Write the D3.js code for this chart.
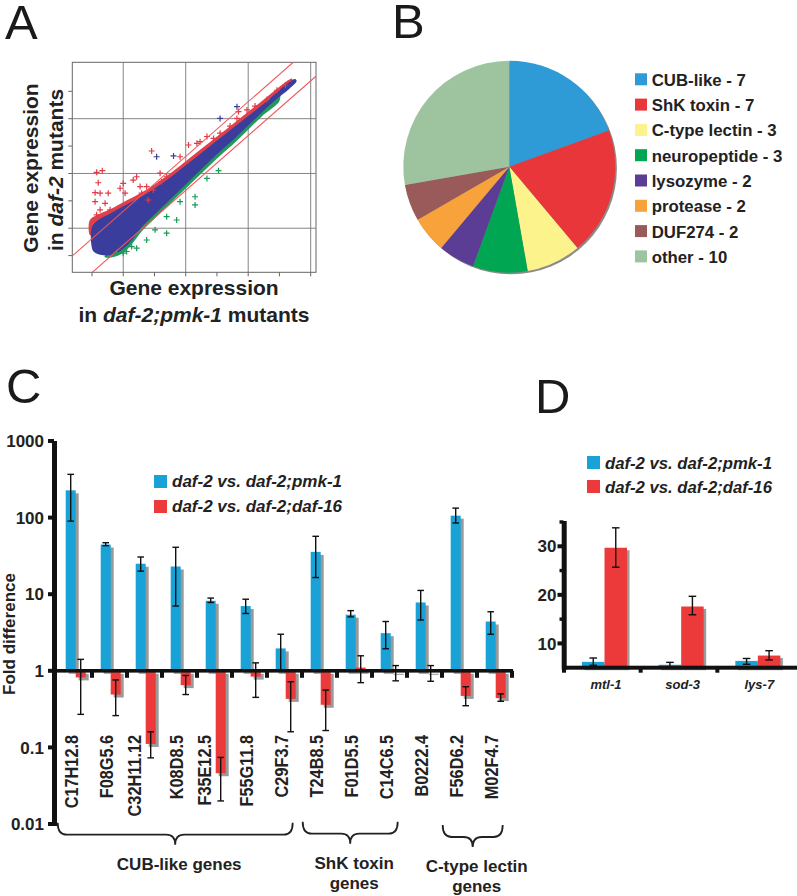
<!DOCTYPE html>
<html><head><meta charset="utf-8">
<script src="https://cdn.jsdelivr.net/npm/d3@7"></script>
<style>
body{margin:0;background:#fff}
svg{display:block}
text{font-family:"Liberation Sans",Arial,Helvetica,sans-serif}
</style>
</head><body>
<svg id="fig" width="797" height="896"></svg>
<script>
// ---------- Panel A data (log expression units) ----------
const gridXA = [2, 4, 6, 8];
const gridYA = [2, 4, 6];
const ticksXA = [1, 2, 3, 4, 5, 6, 7, 8];
const ticksYA = [1, 2, 3, 4, 5, 6, 7];
const upperFoldLine = [[0.37, 0.99], [7.44, 8.06]];
const lowerFoldLine = [[1.01, 0.39], [8.17, 7.55]];
const blueCloud = [[0.98,1.4],[1.0,2.05],[1.2,2.3],[1.6,2.55],[2.0,2.8],[2.5,3.1],[3.0,3.45],[3.5,3.85],[4.0,4.3],[4.5,4.75],[5.0,5.2],[5.5,5.65],[6.0,6.1],[6.5,6.55],[7.0,7.05],[7.3,7.32],[7.5,7.45],[7.55,7.38],[7.3,7.08],[7.0,6.8],[6.5,6.3],[6.0,5.75],[5.5,5.2],[5.0,4.7],[4.5,4.15],[4.0,3.6],[3.5,3.05],[3.0,2.5],[2.6,2.05],[2.3,1.6],[2.0,1.25],[1.7,1.05],[1.3,1.02],[1.05,1.15]];
const redBand = [[0.93,1.75],[0.93,2.3],[1.2,2.5],[1.6,2.7],[2.0,2.95],[2.5,3.25],[3.0,3.6],[3.5,4.0],[4.0,4.45],[4.5,4.9],[5.0,5.35],[5.5,5.8],[6.0,6.25],[6.5,6.7],[7.0,7.17],[7.4,7.47],[7.4,7.3],[7.0,6.95],[6.5,6.45],[6.0,6.0],[5.5,5.5],[5.0,5.05],[4.5,4.6],[4.0,4.15],[3.5,3.7],[3.0,3.3],[2.5,2.95],[2.0,2.6],[1.6,2.35],[1.2,2.0],[1.0,1.75]];
const greenBand = [[1.4,0.95],[1.7,0.95],[2.0,1.1],[2.3,1.45],[2.6,1.9],[3.0,2.35],[3.5,2.9],[4.0,3.45],[4.5,4.0],[5.0,4.55],[5.5,5.05],[6.0,5.6],[6.5,6.15],[7.0,6.65],[7.0,6.95],[6.5,6.45],[6.0,5.9],[5.5,5.35],[5.0,4.85],[4.5,4.3],[4.0,3.75],[3.5,3.2],[3.0,2.65],[2.6,2.2],[2.3,1.8],[2.0,1.45],[1.6,1.2]];
const redOutliers = [[2.91,4.82],[1.15,4.04],[1.33,4.10],[1.20,3.66],[1.10,3.30],[1.26,3.28],[1.52,3.28],[1.90,3.46],[2.06,3.28],[2.00,3.64],[1.10,2.97],[1.42,2.91],[1.26,2.67],[1.58,2.67],[1.15,2.49],[2.54,3.52],[2.59,3.28],[3.18,4.01],[3.39,3.88],[3.23,3.70],[2.80,3.03],[3.82,4.61],[4.09,5.04],[4.36,5.10],[2.96,3.40],[2.32,3.76],[2.43,3.88],[4.46,5.16],[4.68,5.35],[4.89,5.28],[5.10,5.47],[5.42,5.73],[5.64,6.01],[5.69,6.26],[5.96,6.32],[6.22,6.46],[6.60,6.70],[6.92,7.04],[7.19,7.23],[2.75,3.52]];
const greenOutliers = [[4.68,3.82],[4.30,3.15],[4.30,2.85],[3.71,2.30],[3.39,2.42],[3.39,1.82],[2.75,1.57],[2.43,1.27],[2.00,1.09],[5.05,4.10],[3.82,2.97],[2.27,1.33],[1.79,1.11],[2.11,1.15],[3.02,1.94]];
const blueOutliers = [[5.64,6.44],[5.10,6.01],[3.61,4.64],[3.07,4.61],[2.27,1.82]];

// ---------- Panel B data ----------
const pieLabels = ["CUB-like","ShK toxin","C-type lectin","neuropeptide","lysozyme","protease","DUF274","other"];
const pieCounts = [7, 7, 3, 3, 2, 2, 2, 10];
const pieColors = ["#2e9ad6","#e8363a","#fdf38c","#00a651","#5c3d96","#f7a23a","#9b5a5a","#9dc49f"];

// ---------- Panel C data ----------
const seriesNames = ["daf-2 vs. daf-2;pmk-1", "daf-2 vs. daf-2;daf-16"];
const seriesColors = ["#19a2d8", "#ec3a3a"];
const genes = ["C17H12.8","F08G5.6","C32H11.12","K08D8.5","F35E12.5","F55G11.8","C29F3.7","T24B8.5","F01D5.5","C14C6.5","B0222.4","F56D6.2","M02F4.7"];
const pmk1   = [227, 44.5, 25, 23, 8.2, 7.0, 1.96, 35.7, 5.4, 3.1, 7.8, 106, 4.4];
const pmk1Lo = [90, 43, 20, 7.0, 7.8, 5.6, 1.02, 16.5, 5.06, 1.94, 4.6, 85, 3.0];
const pmk1Hi = [367, 47, 30.6, 41, 8.9, 8.6, 3.0, 57, 6.1, 4.4, 11.2, 133, 5.9];
const daf16   = [0.82, 0.49, 0.111, 0.65, 0.046, 0.84, 0.43, 0.36, 1.1, 0.97, 0.97, 0.47, 0.44];
const daf16Lo = [0.27, 0.26, 0.073, 0.49, 0.020, 0.45, 0.16, 0.166, 0.70, 0.74, 0.73, 0.35, 0.40];
const daf16Hi = [1.41, 0.76, 0.16, 0.87, 0.074, 1.27, 0.72, 0.56, 1.57, 1.17, 1.17, 0.62, 0.50];
const yTicksC = [0.01, 0.1, 1, 10, 100, 1000];
const yTickLabelsC = ["0.01", "0.1", "1", "10", "100", "1000"];
const geneGroups = [
  {lines: ["CUB-like genes"], first: "C17H12.8", last: "C29F3.7"},
  {lines: ["ShK toxin", "genes"], first: "T24B8.5", last: "C14C6.5"},
  {lines: ["C-type lectin", "genes"], first: "F56D6.2", last: "M02F4.7"}
];

// ---------- Panel D data ----------
const dGenes = ["mtl-1", "sod-3", "lys-7"];
const dPmk1   = [6.2, 5.6, 6.4];
const dPmk1Lo = [5.5, 5.2, 5.7];
const dPmk1Hi = [7.0, 6.1, 6.9];
const dDaf16   = [29.7, 17.6, 7.5];
const dDaf16Lo = [25.7, 15.9, 6.6];
const dDaf16Hi = [33.8, 19.7, 8.5];
const dMajorTicks = [10, 20, 30];
const dMinorTicks = [15, 25, 35];

// =====================================================
const svg = d3.select("#fig");
const BOLD = 700;

// panel letters
[["A",5,39],["B",392,38],["C",6,403],["D",535,413]].forEach(([t,x,y]) =>
  svg.append("text").attr("x",x).attr("y",y).attr("font-size",49).attr("fill","#1a1a1a").text(t));

// ---------------- Panel A ----------------
(function(){
  const L=72.3,R=316,T=62.3,B=272.3;
  const xA = d3.scaleLinear().domain([0.37, 8.17]).range([L, R]);
  const yA = d3.scaleLinear().domain([0.39, 8.06]).range([B, T]);
  const g = svg.append("g");
  g.append("defs").append("clipPath").attr("id","clipA")
    .append("rect").attr("x",L).attr("y",T).attr("width",R-L).attr("height",B-T);
  g.append("rect").attr("x",L).attr("y",T).attr("width",R-L).attr("height",B-T)
    .attr("fill","#fff").attr("stroke","#666").attr("stroke-width",1);
  g.selectAll(".gx").data(gridXA).join("line")
    .attr("x1",d=>xA(d)).attr("x2",d=>xA(d)).attr("y1",T).attr("y2",B)
    .attr("stroke","#777").attr("stroke-width",0.9);
  g.selectAll(".gy").data(gridYA).join("line")
    .attr("y1",d=>yA(d)).attr("y2",d=>yA(d)).attr("x1",L).attr("x2",R)
    .attr("stroke","#777").attr("stroke-width",0.9);
  g.selectAll(".tx").data(ticksXA).join("line")
    .attr("x1",d=>xA(d)).attr("x2",d=>xA(d)).attr("y1",B).attr("y2",B+4)
    .attr("stroke","#666").attr("stroke-width",1);
  g.selectAll(".ty").data(ticksYA).join("line")
    .attr("y1",d=>yA(d)).attr("y2",d=>yA(d)).attr("x1",L-4).attr("x2",L)
    .attr("stroke","#666").attr("stroke-width",1);

  const c = g.append("g").attr("clip-path","url(#clipA)");
  const poly = d3.line().x(d=>xA(d[0])).y(d=>yA(d[1])).curve(d3.curveCatmullRomClosed);
  c.append("path").attr("d",poly(redBand)).attr("fill","#e0404a");
  c.append("path").attr("d",poly(greenBand)).attr("fill","#1f9a5c");
  c.append("path").attr("d",poly(blueCloud)).attr("fill","#3b3d9c");
  const cross = "M-3,0H3M0,-3V3";
  const addPts = (data,col) => c.append("g").selectAll("path").data(data).join("path")
    .attr("d",cross).attr("transform",d=>`translate(${xA(d[0])},${yA(d[1])})`)
    .attr("stroke",col).attr("stroke-width",1.2).attr("fill","none");
  addPts(greenOutliers,"#1a9a58");
  addPts(blueOutliers,"#3b3d9c");
  addPts(redOutliers,"#e23a44");
  const ln = d3.line().x(d=>xA(d[0])).y(d=>yA(d[1]));
  [upperFoldLine, lowerFoldLine].forEach(l =>
    c.append("path").attr("d",ln(l)).attr("stroke","#f0555a").attr("stroke-width",1.1).attr("fill","none"));

  g.append("text").attr("x",194).attr("y",295).attr("text-anchor","middle")
    .attr("font-size",21).attr("font-weight",BOLD).attr("fill","#222").text("Gene expression");
  const t2 = g.append("text").attr("x",194).attr("y",321.7).attr("text-anchor","middle")
    .attr("font-size",21).attr("font-weight",BOLD).attr("fill","#222");
  t2.append("tspan").text("in ");
  t2.append("tspan").attr("font-style","italic").text("daf-2;pmk-1");
  t2.append("tspan").text(" mutants");
  g.append("text").attr("transform","translate(37.5,168) rotate(-90)").attr("text-anchor","middle")
    .attr("font-size",21).attr("font-weight",BOLD).attr("fill","#222").text("Gene expression");
  const t4 = g.append("text").attr("transform","translate(63,170) rotate(-90)").attr("text-anchor","middle")
    .attr("font-size",21).attr("font-weight",BOLD).attr("fill","#222");
  t4.append("tspan").text("in ");
  t4.append("tspan").attr("font-style","italic").text("daf-2");
  t4.append("tspan").text(" mutants");
})();

// ---------------- Panel B ----------------
(function(){
  const cx=509.3, cy=166.7, r=106;
  const g = svg.append("g");
  g.append("circle").attr("cx",cx+1.6).attr("cy",cy+1.6).attr("r",r).attr("fill","#8a8a8a");
  const pie = d3.pie().sort(null).value(d=>d)(pieCounts);
  const arc = d3.arc().innerRadius(0).outerRadius(r);
  g.append("g").attr("transform",`translate(${cx},${cy})`).selectAll("path").data(pie).join("path")
    .attr("d",arc).attr("fill",(d,i)=>pieColors[i]);
  const lg = g.append("g");
  pieLabels.forEach((lab,i)=>{
    lg.append("rect").attr("x",635).attr("y",73.3+25.3*i).attr("width",12).attr("height",12).attr("fill",pieColors[i]);
    lg.append("text").attr("x",651.7).attr("y",85.7+25.3*i).attr("font-size",16.8).attr("font-weight",BOLD)
      .attr("fill","#222").text(`${lab} - ${pieCounts[i]}`);
  });
})();

// ---------------- Panel C ----------------
(function(){
  const g = svg.append("g");
  const x0 = d3.scaleBand().domain(genes).range([57, 512]);
  const x1 = d3.scaleBand().domain(seriesNames).range([8.7, 28.7]);
  const y = d3.scaleLog().domain([0.01, 1000]).range([824, 441]);
  const y1 = y(1);
  const rows = [];
  genes.forEach((gname,i)=>{
    rows.push({g:gname, s:seriesNames[0], c:seriesColors[0], v:pmk1[i], lo:pmk1Lo[i], hi:pmk1Hi[i]});
    rows.push({g:gname, s:seriesNames[1], c:seriesColors[1], v:daf16[i], lo:daf16Lo[i], hi:daf16Hi[i]});
  });
  const bx = d => x0(d.g) + x1(d.s);
  const bw = x1.bandwidth();
  g.selectAll(".sh").data(rows).join("rect")
    .attr("x",d=>bx(d)+3).attr("y",d=>Math.min(y(d.v),y1)+3).attr("width",bw)
    .attr("height",d=>Math.abs(y(d.v)-y1)).attr("fill","#9a9a9a");
  g.selectAll(".bar").data(rows).join("rect")
    .attr("x",d=>bx(d)).attr("y",d=>Math.min(y(d.v),y1)).attr("width",bw)
    .attr("height",d=>Math.abs(y(d.v)-y1)).attr("fill",d=>d.c);
  g.append("rect").attr("x",52).attr("y",y1-1.8).attr("width",513-52).attr("height",3.6).attr("fill","#111");
  const bounds = genes.slice(0,-1).map(gn => x0(gn)+x0.step());
  bounds.push(512);
  g.selectAll(".bt").data(bounds).join("rect")
    .attr("x",d=>d-2).attr("y",y1).attr("width",4).attr("height",7).attr("fill","#111");
  const eb = g.append("g").attr("stroke","#111").attr("stroke-width",1.4);
  rows.forEach(d=>{
    const cx = bx(d)+bw/2;
    eb.append("line").attr("x1",cx).attr("x2",cx).attr("y1",y(d.lo)).attr("y2",y(d.hi));
    eb.append("line").attr("x1",cx-3.3).attr("x2",cx+3.3).attr("y1",y(d.lo)).attr("y2",y(d.lo));
    eb.append("line").attr("x1",cx-3.3).attr("x2",cx+3.3).attr("y1",y(d.hi)).attr("y2",y(d.hi));
  });
  g.append("rect").attr("x",52).attr("y",441).attr("width",5).attr("height",824-441+2).attr("fill","#111");
  g.selectAll(".yt").data(yTicksC).join("rect")
    .attr("x",48).attr("y",d=>y(d)-2).attr("width",6).attr("height",4).attr("fill","#111");
  g.selectAll(".yl").data(yTicksC).join("text")
    .attr("x",44).attr("y",d=>y(d)).attr("dy","0.36em").attr("text-anchor","end")
    .attr("font-size",17).attr("font-weight",BOLD).attr("fill","#222")
    .text((d,i)=>yTickLabelsC[i]);
  g.append("text").attr("transform","translate(14.5,634) rotate(-90)").attr("text-anchor","middle")
    .attr("font-size",17).attr("font-weight",BOLD).attr("fill","#222").text("Fold difference");
  // gene labels (shifted left when the red bar reaches into the label zone)
  const labelTop = 735;
  g.selectAll(".gl").data(genes).join("text")
    .attr("transform",(d,i)=>{
      const shift = y(daf16[i]) > labelTop - 2 ? -7 : 0;
      return `translate(${x0(d)+x1(seriesNames[0])+6+shift},${labelTop}) rotate(-90) scale(0.88,1)`;
    })
    .attr("text-anchor","end").attr("dy","0.36em")
    .attr("font-size",18.5).attr("font-weight",BOLD).attr("fill","#222").text(d=>d);
  const tops = [822.7, 821.7, 825];
  geneGroups.forEach((grp,k)=>{
    const xa = x0(grp.first)+x1(seriesNames[0]) - 8;
    const xb = x0(grp.last)+x1(seriesNames[1]) + bw - 3;
    const xc = (xa+xb)/2, yt = tops[k], ym = yt+12, yb = yt+22, r = 9;
    const p = `M${xa},${yt} Q${xa},${ym} ${xa+r},${ym} L${xc-r},${ym} Q${xc},${ym} ${xc},${yb} `+
              `M${xb},${yt} Q${xb},${ym} ${xb-r},${ym} L${xc+r},${ym} Q${xc},${ym} ${xc},${yb}`;
    g.append("path").attr("d",p).attr("fill","none").attr("stroke","#222").attr("stroke-width",1.8);
    grp.lines.forEach((ln,j)=>{
      g.append("text").attr("x",xc+4).attr("y",yt+47+20*j).attr("text-anchor","middle")
        .attr("font-size",17).attr("font-weight",BOLD).attr("fill","#222").text(ln);
    });
  });
  seriesNames.forEach((s,i)=>{
    g.append("rect").attr("x",154).attr("y",475+25*i).attr("width",13).attr("height",13).attr("fill",seriesColors[i]);
    g.append("text").attr("x",172).attr("y",487.3+24.5*i).attr("font-size",17).attr("font-weight",BOLD)
      .attr("font-style","italic").attr("fill","#222").text(s);
  });
})();

// ---------------- Panel D ----------------
(function(){
  const g = svg.append("g");
  const x0 = d3.scaleBand().domain(dGenes).range([564, 794]);
  const x1 = d3.scaleBand().domain(seriesNames).range([18, 63]);
  const y = d3.scaleLinear().domain([5, 35]).range([667.7, 522]);
  const yb = y(5);
  const rows = [];
  dGenes.forEach((gn,i)=>{
    rows.push({g:gn, s:seriesNames[0], c:seriesColors[0], v:dPmk1[i], lo:dPmk1Lo[i], hi:dPmk1Hi[i]});
    rows.push({g:gn, s:seriesNames[1], c:seriesColors[1], v:dDaf16[i], lo:dDaf16Lo[i], hi:dDaf16Hi[i]});
  });
  const bx = d => x0(d.g)+x1(d.s);
  const bw = x1.bandwidth();
  g.selectAll(".sh").data(rows).join("rect")
    .attr("x",d=>bx(d)+2.5).attr("y",d=>y(d.v)+2.5).attr("width",bw).attr("height",d=>yb-y(d.v)).attr("fill","#9a9a9a");
  g.selectAll(".bar").data(rows).join("rect")
    .attr("x",d=>bx(d)).attr("y",d=>y(d.v)).attr("width",bw).attr("height",d=>yb-y(d.v)).attr("fill",d=>d.c);
  g.append("rect").attr("x",562).attr("y",yb-2).attr("width",797-562).attr("height",4).attr("fill","#111");
  const bnds = [564].concat(dGenes.slice(0,-1).map(gn=>x0(gn)+x0.step()));
  g.selectAll(".bt").data(bnds).join("rect")
    .attr("x",d=>d-2).attr("y",yb).attr("width",4).attr("height",5).attr("fill","#111");
  g.append("rect").attr("x",561.7).attr("y",521).attr("width",5).attr("height",yb-521+2).attr("fill","#111");
  g.selectAll(".mj").data(dMajorTicks).join("rect")
    .attr("x",557.5).attr("y",d=>y(d)-2).attr("width",6).attr("height",4).attr("fill","#111");
  g.selectAll(".mn").data(dMinorTicks).join("rect")
    .attr("x",559.5).attr("y",d=>y(d)-1.7).attr("width",4).attr("height",3.4).attr("fill","#111");
  g.selectAll(".yl").data(dMajorTicks).join("text")
    .attr("x",556.5).attr("y",d=>y(d)).attr("dy","0.36em").attr("text-anchor","end")
    .attr("font-size",17).attr("font-weight",BOLD).attr("fill","#222").text(d=>d);
  const eb = g.append("g").attr("stroke","#111").attr("stroke-width",1.4);
  rows.forEach(d=>{
    const cx = bx(d)+bw/2;
    eb.append("line").attr("x1",cx).attr("x2",cx).attr("y1",y(d.lo)).attr("y2",y(d.hi));
    eb.append("line").attr("x1",cx-3.8).attr("x2",cx+3.8).attr("y1",y(d.lo)).attr("y2",y(d.lo));
    eb.append("line").attr("x1",cx-3.8).attr("x2",cx+3.8).attr("y1",y(d.hi)).attr("y2",y(d.hi));
  });
  g.selectAll(".cl").data(dGenes).join("text")
    .attr("x",d=>x0(d)+x1(seriesNames[1])+1.5).attr("y",689).attr("text-anchor","middle")
    .attr("font-size",13).attr("font-weight",BOLD).attr("font-style","italic").attr("fill","#222").text(d=>d);
  seriesNames.forEach((s,i)=>{
    g.append("rect").attr("x",587).attr("y",456+24*i).attr("width",13).attr("height",13).attr("fill",seriesColors[i]);
    g.append("text").attr("x",605).attr("y",468.7+24.3*i).attr("font-size",16.7).attr("font-weight",BOLD)
      .attr("font-style","italic").attr("fill","#222").text(s);
  });
})();
</script>
</body></html>
